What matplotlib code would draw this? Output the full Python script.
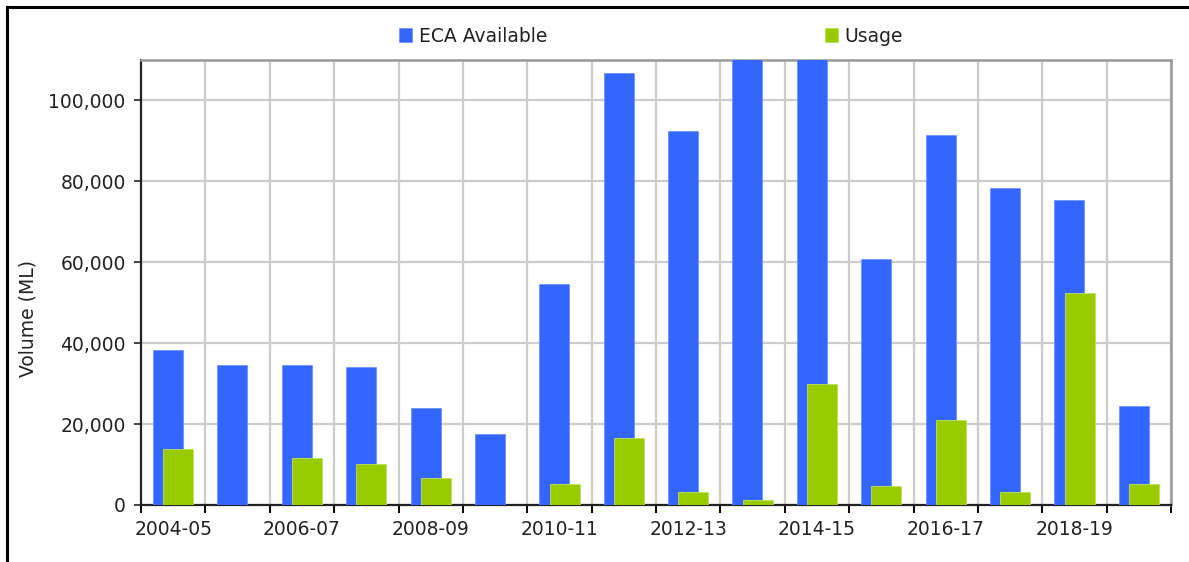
import numpy as np
import matplotlib.pyplot as plt
from matplotlib.lines import Line2D

# Daten
years = ['2004-05', '2005-06', '2006-07', '2007-08', '2008-09', '2009-10',
         '2010-11', '2011-12', '2012-13', '2013-14', '2014-15', '2015-16',
         '2016-17', '2017-18', '2018-19', '2019-20']
eca_available = [38400, 34500, 34500, 34000, 24000, 17600, 54700, 106700,
                 92400, 120000, 113000, 60700, 91400, 78400, 75500, 24500]
usage = [13800, 0, 11700, 10200, 6700, 0, 5300, 16600,
         3300, 1200, 30000, 4800, 21100, 3300, 52300, 5300]

plt.rcParams['font.family'] = 'DejaVu Sans'
plt.rcParams['font.size'] = 13.5

fig = plt.figure(figsize=(11.89, 5.62), dpi=100)
ax = fig.add_axes([141/1189, 57/562, 1030/1189, 445/562])

x = np.arange(len(years))
w = 0.465
ax.bar(x - 0.08, eca_available, w, color='#3366ff', edgecolor='#6f93ff',
       linewidth=0.6, label='ECA Available', zorder=3)
ax.bar(x + 0.08, usage, w, color='#99cc00', edgecolor='#c3e05a',
       linewidth=0.6, label='Usage', zorder=4)

ax.set_xlim(-0.5, len(years) - 0.5)
ax.set_ylim(0, 110000)
ax.set_yticks(np.arange(0, 110001, 20000))
ax.yaxis.set_major_formatter(plt.FuncFormatter(lambda v, p: f'{int(v):,}'))

# Striche an den Kategoriegrenzen, Beschriftung jede zweite Kategorie
ax.set_xticks(np.arange(-0.5, len(years), 1))
ax.set_xticklabels([])
ax.set_xticks(x[::2], minor=True)
ax.set_xticklabels(years[::2], minor=True)
ax.tick_params(axis='x', which='minor', length=0, pad=11, colors='#222222')
ax.tick_params(axis='x', which='major', length=6, width=1.4, direction='out')
ax.tick_params(axis='y', length=5, width=1.2, pad=6, colors='#222222')

ax.grid(True, which='major', color='#cccccc', linewidth=1.6, zorder=0)
ax.set_axisbelow(True)

for s in ['left', 'bottom']:
    ax.spines[s].set_color('#222222')
    ax.spines[s].set_linewidth(1.6)
for s in ['top', 'right']:
    ax.spines[s].set_color('#999999')
    ax.spines[s].set_linewidth(1.8)

ax.set_ylabel('Volume (ML)', color='#222222')
ax.yaxis.set_label_coords(-0.1, 0.42)

fig.legend(loc='center left', bbox_to_anchor=(399/1189, 1 - 36/562),
           ncol=2, frameon=False, handlelength=0.7, handleheight=0.7,
           handletextpad=0.35, columnspacing=14.8, borderpad=0,
           borderaxespad=0, labelcolor='#222222')

# Rahmen
fig.add_artist(Line2D([7/1189, 7/1189], [0, 1 - 7/562], color='black',
                      linewidth=2.2, transform=fig.transFigure))
fig.add_artist(Line2D([7/1189, 1], [1 - 7/562, 1 - 7/562], color='black',
                      linewidth=2.2, transform=fig.transFigure))

fig.savefig('out.png', dpi=100)
